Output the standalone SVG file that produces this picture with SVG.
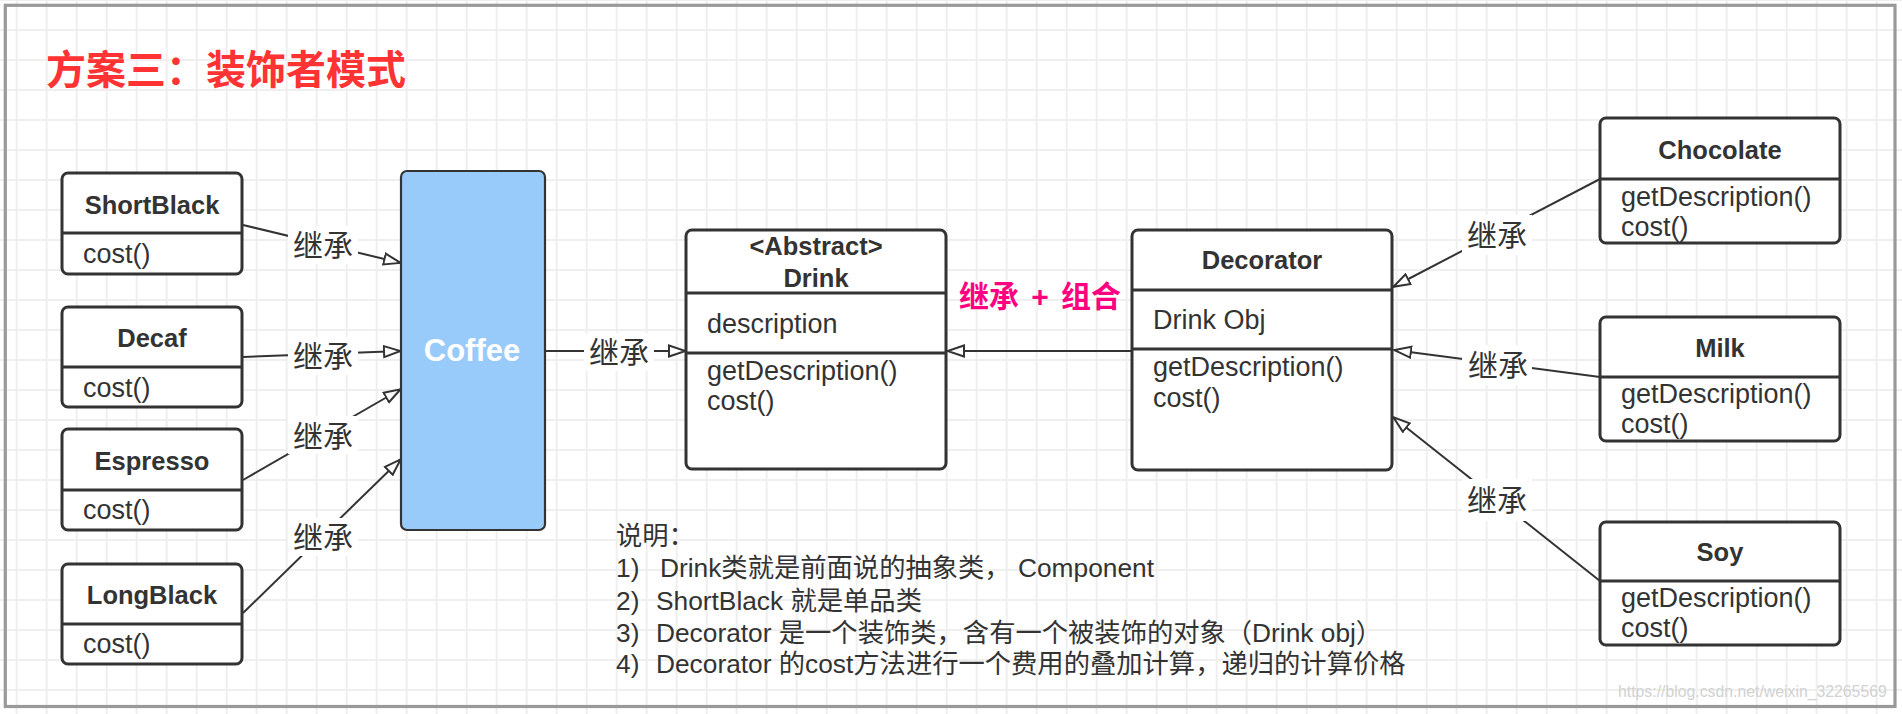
<svg xmlns="http://www.w3.org/2000/svg" width="1902" height="714" viewBox="0 0 1902 714">
<style>
  text { font-family: 'Liberation Sans', 'Noto Sans CJK SC', sans-serif; fill: #333; }
  .box { fill: #fff; stroke: #333; stroke-width: 3; }
  .sep { stroke: #333; stroke-width: 3; }
  .name { font-size: 25.5px; font-weight: bold; text-anchor: middle; }
  .m { font-size: 27px; }
  .lbl { font-size: 30px; text-anchor: middle; }
  .lblbg { fill: #fff; }
  .edge { stroke: #333; stroke-width: 2; fill: none; marker-end: url(#tri); }
  .note { font-size: 26.3px; }
</style>
<defs>
  <pattern id="grid" x="1.7" y="-15" width="30" height="30" patternUnits="userSpaceOnUse">
    <path d="M15,0 V30 M0,15 H30" stroke="#efefef" stroke-width="2" fill="none"/>
  </pattern>
  <marker id="tri" viewBox="0 0 19 14" refX="18" refY="7" markerWidth="19" markerHeight="14" markerUnits="userSpaceOnUse" orient="auto">
    <path d="M1,1.5 L17.5,7 L1,12.5 Z" fill="#fff" stroke="#333" stroke-width="2" stroke-linejoin="miter"/>
  </marker>
</defs>

<rect x="0" y="0" width="1902" height="714" fill="#fff"/>
<rect x="0" y="0" width="1902" height="714" fill="url(#grid)"/>
<rect x="5.3" y="5.3" width="1889.7" height="701.2" fill="none" stroke="#999" stroke-width="3.2"/>

<text x="46" y="84" style="font-size:40px;font-weight:bold;fill:#FF3333">方案三：装饰者模式</text>

<g id="connectors">
  <line class="edge" x1="243" y1="225" x2="401" y2="263"/>
  <line class="edge" x1="243" y1="357" x2="401" y2="351"/>
  <line class="edge" x1="243" y1="480" x2="401" y2="389"/>
  <line class="edge" x1="243" y1="613" x2="401" y2="459"/>
  <line class="edge" x1="545" y1="351" x2="686" y2="351"/>
  <line class="edge" x1="1132" y1="351" x2="947" y2="351"/>
  <line class="edge" x1="1600" y1="179" x2="1393" y2="287"/>
  <line class="edge" x1="1600" y1="377" x2="1394" y2="350"/>
  <line class="edge" x1="1600" y1="581" x2="1393" y2="417"/>

  <rect class="lblbg" x="288" y="226" width="70" height="38"/>
  <text class="lbl" x="323" y="256">继承</text>
  <rect class="lblbg" x="288" y="337" width="70" height="38"/>
  <text class="lbl" x="323" y="367">继承</text>
  <rect class="lblbg" x="288" y="416" width="70" height="38"/>
  <text class="lbl" x="323" y="447">继承</text>
  <rect class="lblbg" x="288" y="518" width="70" height="38"/>
  <text class="lbl" x="323" y="548">继承</text>
  <rect class="lblbg" x="584" y="333" width="70" height="38"/>
  <text class="lbl" x="619" y="363">继承</text>
  <rect class="lblbg" x="1462" y="215" width="70" height="40"/>
  <text class="lbl" x="1497" y="246">继承</text>
  <rect class="lblbg" x="1462" y="345" width="70" height="40"/>
  <text class="lbl" x="1498" y="376">继承</text>
  <rect class="lblbg" x="1462" y="479" width="70" height="42"/>
  <text class="lbl" x="1497" y="511">继承</text>

  <text x="1040" y="307" style="font-size:30px;font-weight:bold;fill:#FF0080;text-anchor:middle;word-spacing:4px">继承 + 组合</text>
</g>

<g id="ShortBlack">
  <rect class="box" x="62" y="173" width="180" height="101" rx="6"/>
  <line class="sep" x1="62" y1="233" x2="242" y2="233"/>
  <text class="name" x="152" y="214">ShortBlack</text>
  <text class="m" x="83" y="263">cost()</text>
</g>
<g id="Decaf">
  <rect class="box" x="62" y="307" width="180" height="100" rx="6"/>
  <line class="sep" x1="62" y1="367" x2="242" y2="367"/>
  <text class="name" x="152" y="347">Decaf</text>
  <text class="m" x="83" y="397">cost()</text>
</g>
<g id="Espresso">
  <rect class="box" x="62" y="429" width="180" height="101" rx="6"/>
  <line class="sep" x1="62" y1="490" x2="242" y2="490"/>
  <text class="name" x="152" y="470">Espresso</text>
  <text class="m" x="83" y="519">cost()</text>
</g>
<g id="LongBlack">
  <rect class="box" x="62" y="564" width="180" height="100" rx="6"/>
  <line class="sep" x1="62" y1="624" x2="242" y2="624"/>
  <text class="name" x="152" y="604">LongBlack</text>
  <text class="m" x="83" y="653">cost()</text>
</g>

<g id="Coffee">
  <rect x="401" y="171" width="144" height="359" rx="6" fill="#99CBFA" stroke="#333" stroke-width="2.2"/>
  <text x="472" y="361" style="font-size:31px;font-weight:bold;fill:#fff;text-anchor:middle">Coffee</text>
</g>

<g id="Drink">
  <rect class="box" x="686" y="230" width="260" height="239" rx="6"/>
  <line class="sep" x1="686" y1="293" x2="946" y2="293"/>
  <line class="sep" x1="686" y1="353" x2="946" y2="353"/>
  <text class="name" x="816" y="255">&lt;Abstract&gt;</text>
  <text class="name" x="816" y="287">Drink</text>
  <text class="m" x="707" y="333">description</text>
  <text class="m" x="707" y="380">getDescription()</text>
  <text class="m" x="707" y="410">cost()</text>
</g>

<g id="Decorator">
  <rect class="box" x="1132" y="230" width="260" height="240" rx="6"/>
  <line class="sep" x1="1132" y1="290" x2="1392" y2="290"/>
  <line class="sep" x1="1132" y1="349" x2="1392" y2="349"/>
  <text class="name" x="1262" y="269">Decorator</text>
  <text class="m" x="1153" y="329">Drink Obj</text>
  <text class="m" x="1153" y="376">getDescription()</text>
  <text class="m" x="1153" y="407">cost()</text>
</g>

<g id="Chocolate">
  <rect class="box" x="1600" y="118" width="240" height="125" rx="6"/>
  <line class="sep" x1="1600" y1="179" x2="1840" y2="179"/>
  <text class="name" x="1720" y="159">Chocolate</text>
  <text class="m" x="1621" y="206">getDescription()</text>
  <text class="m" x="1621" y="236">cost()</text>
</g>
<g id="Milk">
  <rect class="box" x="1600" y="317" width="240" height="124" rx="6"/>
  <line class="sep" x1="1600" y1="377" x2="1840" y2="377"/>
  <text class="name" x="1720" y="357">Milk</text>
  <text class="m" x="1621" y="403">getDescription()</text>
  <text class="m" x="1621" y="433">cost()</text>
</g>
<g id="Soy">
  <rect class="box" x="1600" y="522" width="240" height="123" rx="6"/>
  <line class="sep" x1="1600" y1="581" x2="1840" y2="581"/>
  <text class="name" x="1720" y="561">Soy</text>
  <text class="m" x="1621" y="607">getDescription()</text>
  <text class="m" x="1621" y="637">cost()</text>
</g>

<g id="notes">
  <text class="note" x="616" y="545">说明：</text>
  <text class="note" y="577"><tspan x="616">1)</tspan><tspan x="660">Drink类就是前面说的抽象类，</tspan><tspan x="1018">Component</tspan></text>
  <text class="note" y="610"><tspan x="616">2)</tspan><tspan x="656">ShortBlack 就是单品类</tspan></text>
  <text class="note" y="642"><tspan x="616">3)</tspan><tspan x="656">Decorator 是一个装饰类，含有一个被装饰的对象（Drink obj）</tspan></text>
  <text class="note" y="673"><tspan x="616">4)</tspan><tspan x="656">Decorator 的cost方法进行一个费用的叠加计算，递归的计算价格</tspan></text>
</g>

<text x="1618" y="697" style="font-size:15.8px;fill:#d2d2d2">https://blog.csdn.net/weixin_32265569</text>
</svg>
